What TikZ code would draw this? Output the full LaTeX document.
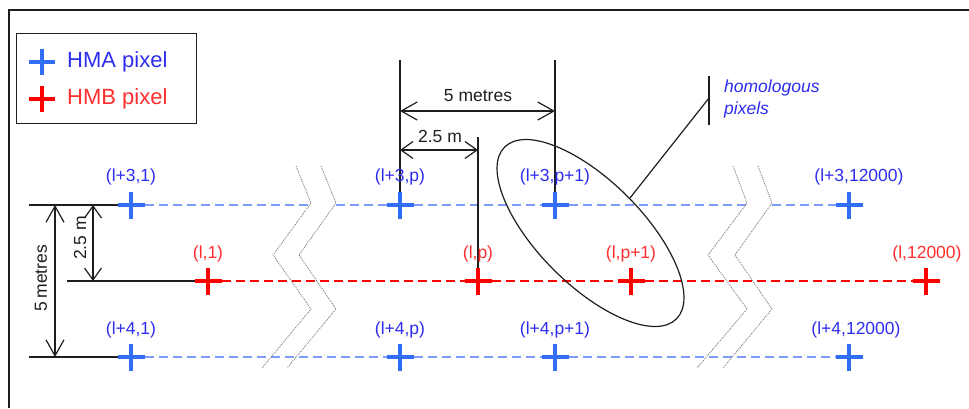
\documentclass[tikz,border=0pt]{standalone}
\usepackage{fontspec}
\setmainfont{Liberation Sans}
\usetikzlibrary{arrows.meta,shapes.geometric}
\definecolor{lblue}{RGB}{45,45,240}
\definecolor{cblue}{RGB}{50,110,245}
\definecolor{dblue}{RGB}{125,155,250}
\definecolor{hred}{RGB}{255,0,0}
\definecolor{lred}{RGB}{255,45,45}
\definecolor{brk}{RGB}{120,120,120}
\definecolor{ink}{RGB}{30,30,30}
\begin{document}
\begin{tikzpicture}[x=1pt,y=-1pt,
  px/.style={minimum size=27pt,inner sep=0pt,outer sep=0pt},
  lab/.style={font=\fontsize{17.5}{21}\selectfont,inner sep=0pt},
  bdash/.style={dblue,line width=2pt,dash pattern=on 9pt off 5pt},
  rdash/.style={hred,line width=1.6pt,dash pattern=on 9pt off 5pt},
  bcross/.style={cblue,line width=4.5pt},
  rcross/.style={hred,line width=4.5pt},
  thin line/.style={ink,line width=1.2pt},
  dimA/.style={ink,line width=1.2pt,<->,>={Straight Barb[length=16pt,width=18pt]}},
  dimB/.style={ink,line width=1.2pt,<->,>={Straight Barb[length=12pt,width=17pt]}},
  brkline/.style={brk,line width=0.8pt,dash pattern=on 1pt off 1pt},
  ]
\useasboundingbox (0,0) rectangle (969,408);
% frame
\draw[ink,line width=1.5pt] (9,408) -- (9,10) -- (969,10);

% legend
\node[draw=ink,line width=1.2pt,minimum width=180pt,minimum height=90pt,inner sep=0pt,anchor=north west] (legend) at (16,33) {};
\node[px,minimum size=26pt] (legA) at (42,62) {};
\node[px,minimum size=26pt] (legB) at (42,99) {};
\node[anchor=west,inner sep=0pt,lblue,font=\fontsize{22}{26}\selectfont] (legAt) at (67,62) {HMA pixel};
\node[anchor=west,inner sep=0pt,lred,font=\fontsize{22}{26}\selectfont] (legBt) at (67,99) {HMB pixel};

% pixel nodes
\node[px] (a31) at (131,205) {};
\node[px] (l1)  at (208,281) {};
\node[px] (a41) at (131,357) {};
\node[px] (a3p) at (400,205) {};
\node[px] (lp)  at (478,281) {};
\node[px] (a4p) at (400,357) {};
\node[px] (a3q) at (555,205) {};
\node[px] (lq)  at (631,281) {};
\node[px] (a4q) at (555,357) {};
\node[px] (a3n) at (849,205) {};
\node[px] (ln)  at (926,281) {};
\node[px] (a4n) at (849,357) {};

% gap coordinates on top row
\coordinate (g1) at (311,205);
\coordinate (g2) at (336,205);
\coordinate (g3) at (747,205);
\coordinate (g4) at (772,205);

% dashed rows
\draw[bdash] (a31) -- (g1);
\draw[bdash] (g2) -- (a3p);
\draw[bdash] (a3p) -- (a3q);
\draw[bdash] (a3q) -- (g3);
\draw[bdash] (g4) -- (a3n);
\draw[rdash] (l1) -- (lp);
\draw[rdash] (lp) -- (lq);
\draw[rdash] (lq) -- (ln);
\draw[bdash] (a41) -- (a4p);
\draw[bdash] (a4p) -- (a4q);
\draw[bdash] (a4q) -- (a4n);

% break marks
\draw[brkline] (296,166) -- (311,203) -- (273,255) -- (311,309) -- (262,368);
\draw[brkline] (321,166) -- (336,203) -- (299,255) -- (336,309) -- (287,368);
\draw[brkline] (733,166) -- (747,203) -- (708,255) -- (747,309) -- (697,368);
\draw[brkline] (758,166) -- (772,203) -- (735,255) -- (772,309) -- (723,368);

% left extension lines
\coordinate (e1) at (29,205);
\coordinate (e2) at (67,281);
\coordinate (e3) at (29,357);
\draw[thin line] (e1) -- (a31);
\draw[thin line] (e2) -- (l1);
\draw[thin line] (e3) -- (a41);

% left dimensions
\coordinate (v5a) at (55,205);
\coordinate (v5b) at (55,357);
\coordinate (v2a) at (93,205);
\coordinate (v2b) at (93,281);
\draw[dimA] (v5a) -- (v5b);
\draw[dimB] (v2a) -- (v2b);
\node[lab,ink,rotate=90] (d5v) at (41,278) {5\,metres};
\node[lab,ink,rotate=90] (d2v) at (80,238) {2.5 m};

% top extension lines
\coordinate (t1) at (400,60);
\coordinate (t2) at (555,60);
\coordinate (t3) at (478,137);
\draw[thin line] (t1) -- (a3p.center);
\draw[thin line] (t2) -- (a3q.center);
\draw[thin line] (t3) -- (lp.center);

% top dimensions
\coordinate (h1) at (400,111);
\coordinate (h2) at (555,111);
\coordinate (h3) at (400,150);
\coordinate (h4) at (478,150);
\draw[dimA] (h1) -- (h2);
\draw[dimB] (h3) -- (h4);
\node[lab,ink] (d5h) at (478,96) {5 metres};
\node[lab,ink] (d2h) at (440,136) {2.5 m};

% ellipse and leader
\node[draw=ink,line width=1.2pt,ellipse,minimum width=243pt,minimum height=104pt,inner sep=0pt,rotate=-45] (ell) at (590.5,233) {};
\coordinate (ls) at (630,198);
\coordinate (lb) at (709,98);
\coordinate (lbt) at (709,76);
\coordinate (lbb) at (709,125);
\draw[thin line] (ls) -- (lb);
\draw[ink,line width=1.5pt] (lbt) -- (lbb);
\node[lblue,anchor=west,inner sep=0pt,align=left,font=\fontsize{17.5}{22}\selectfont\itshape] (hom) at (724,99) {homologous\\pixels};

% crosses
\foreach \n in {a31,a41,a3p,a4p,a3q,a4q,a3n,a4n,legA}
  \draw[bcross] (\n.north) -- (\n.south) (\n.west) -- (\n.east);
\foreach \n in {l1,lp,lq,ln,legB}
  \draw[rcross] (\n.north) -- (\n.south) (\n.west) -- (\n.east);

% labels
\node[lab,lblue] (ta31) at (131,177) {(l+3,1)};
\node[lab,lred]  (tl1)  at (208,254) {(l,1)};
\node[lab,lblue] (ta41) at (131,330) {(l+4,1)};
\node[lab,lblue] (ta3p) at (400,177) {(l+3,p)};
\node[lab,lred]  (tlp)  at (478,254) {(l,p)};
\node[lab,lblue] (ta4p) at (400,330) {(l+4,p)};
\node[lab,lblue] (ta3q) at (555,177) {(l+3,p+1)};
\node[lab,lred]  (tlq)  at (631,254) {(l,p+1)};
\node[lab,lblue] (ta4q) at (555,330) {(l+4,p+1)};
\node[lab,lblue] (ta3n) at (859,177) {(l+3,12000)};
\node[lab,lred]  (tln)  at (927,254) {(l,12000)};
\node[lab,lblue] (ta4n) at (856,330) {(l+4,12000)};
\end{tikzpicture}
\end{document}
